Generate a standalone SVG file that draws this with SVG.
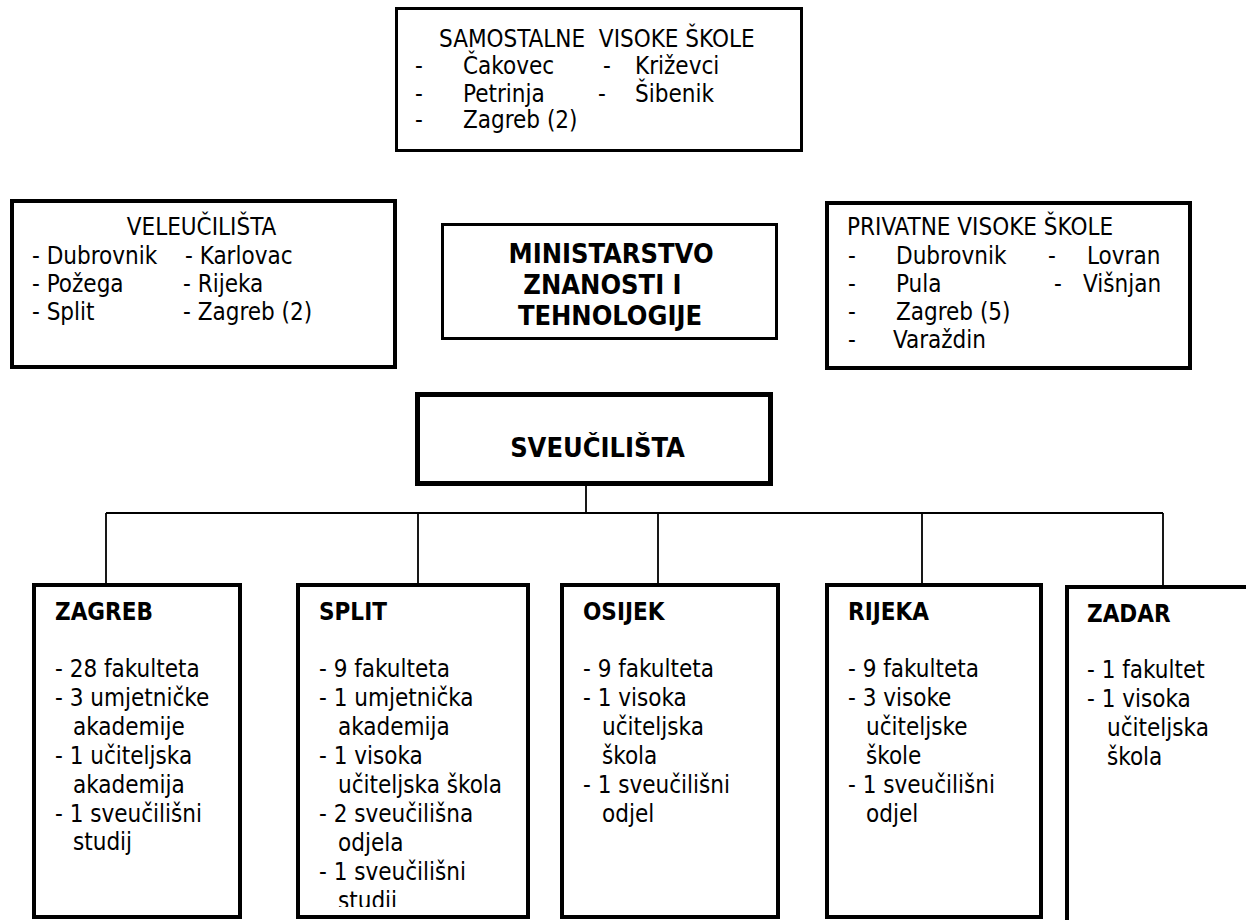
<svg xmlns="http://www.w3.org/2000/svg" width="1246" height="920" viewBox="0 0 1246 920">
<style>
text{font-family:"DejaVu Sans Condensed","DejaVu Sans","Liberation Sans",sans-serif;font-stretch:condensed;fill:#000}
.r{font-size:24px}
.b{font-size:24px;font-weight:bold}
.h{font-size:27px;font-weight:bold;text-anchor:middle}
.m{text-anchor:middle}
.box{fill:#fff;stroke:#000}
.c{stroke:#000;stroke-width:1.8;fill:none}
</style>
<defs>
<clipPath id="splitClip"><rect x="298" y="585" width="230" height="322"/></clipPath>
</defs>
<rect width="1246" height="920" fill="#fff"/>
<g id="connectors">
<path class="c" d="M586 486V513M106 513H1163M106 513V583M418 513V583M658 513V583M922 513V583M1163 513V585"/>
</g>
<g id="samostalne">
<rect class="box" x="396.5" y="8.5" width="405" height="142" stroke-width="3"/>
<text class="r" x="439" y="47" xml:space="preserve">SAMOSTALNE  VISOKE ŠKOLE</text>
<text class="r" x="415" y="74">-</text><text class="r" x="463" y="74">Čakovec</text><text class="r" x="603" y="74">-</text><text class="r" x="635" y="74">Križevci</text>
<text class="r" x="415" y="101.5">-</text><text class="r" x="463" y="101.5">Petrinja</text><text class="r" x="598" y="101.5">-</text><text class="r" x="635" y="101.5">Šibenik</text>
<text class="r" x="415" y="128">-</text><text class="r" x="463" y="128">Zagreb (2)</text>
</g>
<g id="veleucilista">
<rect class="box" x="12" y="201" width="383" height="166" stroke-width="4"/>
<text class="r m" x="201.5" y="235">VELEUČILIŠTA</text>
<text class="r" x="32" y="264">- Dubrovnik</text><text class="r" x="185" y="264">- Karlovac</text>
<text class="r" x="32" y="292">- Požega</text><text class="r" x="183" y="292">- Rijeka</text>
<text class="r" x="32" y="320">- Split</text><text class="r" x="183" y="320">- Zagreb (2)</text>
</g>
<g id="privatne">
<rect class="box" x="827" y="203" width="363" height="165" stroke-width="4"/>
<text class="r" x="847" y="235">PRIVATNE VISOKE ŠKOLE</text>
<text class="r" x="848" y="264">-</text><text class="r" x="896" y="264">Dubrovnik</text><text class="r" x="1048" y="264">-</text><text class="r" x="1087" y="264">Lovran</text>
<text class="r" x="848" y="292">-</text><text class="r" x="896" y="292">Pula</text><text class="r" x="1054" y="292">-</text><text class="r" x="1083" y="292">Višnjan</text>
<text class="r" x="848" y="320">-</text><text class="r" x="896" y="320">Zagreb (5)</text>
<text class="r" x="848" y="348">-</text><text class="r" x="893" y="348">Varaždin</text>
</g>
<g id="ministarstvo">
<rect class="box" x="442.5" y="224.5" width="334" height="114" stroke-width="3"/>
<text class="h" x="611" y="263">MINISTARSTVO</text>
<text class="h" x="602.5" y="294">ZNANOSTI I</text>
<text class="h" x="610" y="325">TEHNOLOGIJE</text>
</g>
<g id="sveucilista">
<rect class="box" x="417.5" y="394.5" width="353" height="89" stroke-width="5"/>
<text class="h" x="597.5" y="457">SVEUČILIŠTA</text>
</g>
<g id="zagreb">
<rect class="box" x="34" y="585" width="206" height="332" stroke-width="4"/>
<text class="b" x="55" y="620">ZAGREB</text>
<text class="r" x="55" y="677">- 28 fakulteta</text>
<text class="r" x="55" y="706">- 3 umjetničke</text>
<text class="r" x="73" y="735">akademije</text>
<text class="r" x="55" y="764">- 1 učiteljska</text>
<text class="r" x="73" y="793">akademija</text>
<text class="r" x="55" y="822">- 1 sveučilišni</text>
<text class="r" x="73" y="850">studij</text>
</g>
<g id="split">
<rect class="box" x="298" y="585" width="230" height="332" stroke-width="4"/>
<text class="b" x="319" y="620">SPLIT</text>
<g clip-path="url(#splitClip)">
<text class="r" x="319" y="677">- 9 fakulteta</text>
<text class="r" x="319" y="706">- 1 umjetnička</text>
<text class="r" x="338" y="735">akademija</text>
<text class="r" x="319" y="764">- 1 visoka</text>
<text class="r" x="338" y="793">učiteljska škola</text>
<text class="r" x="319" y="822">- 2 sveučilišna</text>
<text class="r" x="338" y="851">odjela</text>
<text class="r" x="319" y="880">- 1 sveučilišni</text>
<text class="r" x="338" y="909">studij</text>
</g>
</g>
<g id="osijek">
<rect class="box" x="562" y="585" width="216" height="332" stroke-width="4"/>
<text class="b" x="583" y="620">OSIJEK</text>
<text class="r" x="583" y="677">- 9 fakulteta</text>
<text class="r" x="583" y="706">- 1 visoka</text>
<text class="r" x="602" y="735">učiteljska</text>
<text class="r" x="602" y="764">škola</text>
<text class="r" x="583" y="793">- 1 sveučilišni</text>
<text class="r" x="602" y="822">odjel</text>
</g>
<g id="rijeka">
<rect class="box" x="827" y="585" width="214" height="332" stroke-width="4"/>
<text class="b" x="848" y="620">RIJEKA</text>
<text class="r" x="848" y="677">- 9 fakulteta</text>
<text class="r" x="848" y="706">- 3 visoke</text>
<text class="r" x="866" y="735">učiteljske</text>
<text class="r" x="866" y="764">škole</text>
<text class="r" x="848" y="793">- 1 sveučilišni</text>
<text class="r" x="866" y="822">odjel</text>
</g>
<g id="zadar">
<rect class="box" x="1067" y="587" width="300" height="400" stroke-width="4"/>
<text class="b" x="1087" y="622">ZADAR</text>
<text class="r" x="1087" y="678">- 1 fakultet</text>
<text class="r" x="1087" y="707">- 1 visoka</text>
<text class="r" x="1107" y="736">učiteljska</text>
<text class="r" x="1107" y="765">škola</text>
</g>
</svg>
